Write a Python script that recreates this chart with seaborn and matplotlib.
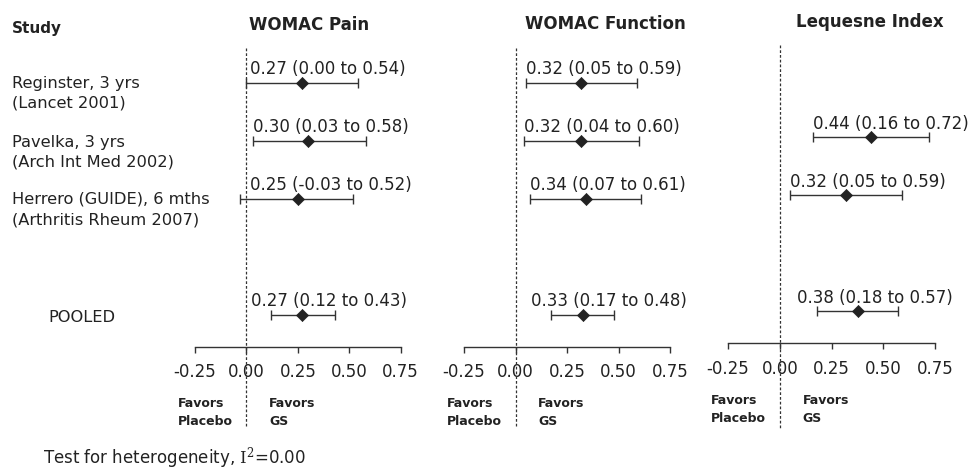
import numpy as np
import pandas as pd
import matplotlib
matplotlib.use("Agg")
import matplotlib.pyplot as plt
import seaborn as sns

# ---------------- data ----------------
studies = ["Reginster, 3 yrs", "Pavelka, 3 yrs", "Herrero (GUIDE), 6 mths", "POOLED"]
sources = ["(Lancet 2001)", "(Arch Int Med 2002)", "(Arthritis Rheum 2007)", ""]
outcomes = ["WOMAC Pain", "WOMAC Function", "Lequesne Index"]
row_pos = [0, 1, 2, 4]

pain_est = [0.27, 0.30, 0.25, 0.27]
pain_lo = [0.00, 0.03, -0.03, 0.12]
pain_hi = [0.54, 0.58, 0.52, 0.43]

func_est = [0.32, 0.32, 0.34, 0.33]
func_lo = [0.05, 0.04, 0.07, 0.17]
func_hi = [0.59, 0.60, 0.61, 0.48]

leq_est = [np.nan, 0.44, 0.32, 0.38]
leq_lo = [np.nan, 0.16, 0.05, 0.18]
leq_hi = [np.nan, 0.72, 0.59, 0.57]

x_ticks = [-0.25, 0.00, 0.25, 0.50, 0.75]
favors_left = ["Favors", "Placebo"]
favors_right = ["Favors", "GS"]
footer = r"Test for heterogeneity, $\mathrm{I}^{2}$=0.00"

frames = []
for name, est, lo, hi in zip(outcomes, [pain_est, func_est, leq_est],
                             [pain_lo, func_lo, leq_lo], [pain_hi, func_hi, leq_hi]):
    frames.append(pd.DataFrame({"outcome": name, "study": studies, "row": row_pos,
                                "est": est, "lo": lo, "hi": hi}))
df = pd.concat(frames, ignore_index=True)

# ---------------- style ----------------
sns.set_theme(style="white")
plt.rcParams["font.family"] = ["DejaVu Sans"]
plt.rcParams["mathtext.fontset"] = "dejavuserif"
W, H = 971, 475
fig = plt.figure(figsize=(W / 100, H / 100), dpi=100)

DARK = "#222222"
LINE = "#333333"


def fx(x):
    return x / W


def fy(y):
    return 1 - y / H


def ftext(x, y, s, **kw):
    fig.text(fx(x), fy(y), s, **kw)


# panel geometry in pixels: (x of -0.25, x of 0.75, top, axis line y)
panels = [(195, 400.7, 48, 346.7), (464, 670, 48, 346.7), (728, 935, 44.5, 343.2)]
PX_PER_ROW = 58.0
Y_TOP = -0.6
DASH_BOTTOM_PX = 428

for (x0, x1, top, bot), name in zip(panels, outcomes):
    ax = fig.add_axes([fx(x0), fy(bot), (x1 - x0) / W, (bot - top) / H])
    sub = df[df["outcome"] == name].dropna()
    y_axis = Y_TOP + (bot - top) / PX_PER_ROW
    ax.set_xlim(x_ticks[0], x_ticks[-1])
    ax.set_ylim(y_axis, Y_TOP)

    # reference line at zero
    y_dash_end = Y_TOP + (DASH_BOTTOM_PX - top) / PX_PER_ROW
    ax.plot([0, 0], [Y_TOP, y_dash_end], color=LINE, lw=0.9,
            ls=(0, (2.2, 1.6)), clip_on=False, zorder=1)

    # confidence intervals
    ax.errorbar(sub["est"], sub["row"],
                xerr=[sub["est"] - sub["lo"], sub["hi"] - sub["est"]],
                fmt="none", ecolor=LINE, elinewidth=1.0, capsize=3.5,
                capthick=1.0, clip_on=False, zorder=2)
    # point estimates
    sns.scatterplot(data=sub, x="est", y="row", marker="D", s=38, color=DARK,
                    edgecolor=DARK, linewidth=0.5, ax=ax, zorder=3, clip_on=False,
                    legend=False)

    for _, r in sub.iterrows():
        label = f"{r['est']:.2f} ({r['lo']:.2f} to {r['hi']:.2f})"
        pooled = r["study"] == "POOLED"
        anchor = r["lo"] if pooled else max(r["lo"], 0.015)
        ax.annotate(label, xy=(anchor, r["row"]),
                    xytext=(-20 if pooled else 0, 8.5), textcoords="offset pixels",
                    ha="left", va="baseline", fontsize=12, color=DARK,
                    annotation_clip=False)

    # axis styling
    for s in ["left", "top", "right"]:
        ax.spines[s].set_visible(False)
    ax.spines["bottom"].set_color(LINE)
    ax.spines["bottom"].set_linewidth(1.0)
    ax.set_yticks([])
    ax.set_xticks(x_ticks)
    ax.set_xticklabels([f"{t:.2f}" for t in x_ticks], fontsize=12, color=DARK)
    ax.tick_params(axis="x", direction="out", length=4, width=1, color=LINE,
                   pad=8, bottom=True)
    ax.set_xlabel("")
    ax.set_ylabel("")
    ax.patch.set_alpha(0)

    # favors labels
    for xd, lines in [(-0.335, favors_left), (0.11, favors_right)]:
        for k, t in enumerate(lines):
            ax.annotate(t, xy=(xd, 0), xycoords=("data", "axes fraction"),
                        xytext=(0, -57 - 18 * k), textcoords="offset pixels",
                        ha="left", va="center", fontsize=9, fontweight="bold",
                        color=DARK, annotation_clip=False)

# headers
ftext(12, 28, "Study", fontsize=11, fontweight="bold", color=DARK, va="center")
for xc, yc, name in [(309, 25.5, outcomes[0]), (605, 24, outcomes[1]), (870, 22, outcomes[2])]:
    ftext(xc, yc, name, fontsize=12, fontweight="bold", color=DARK,
          ha="center", va="center")

# study labels
rows_px = [83, 141.7, 199]
for yp, s1, s2 in zip(rows_px, studies[:3], sources[:3]):
    ftext(12, yp + 5, s1, fontsize=11.7, color=DARK, va="baseline")
    ftext(12, yp + 25, s2, fontsize=11.7, color=DARK, va="baseline")
ftext(48, 318, studies[3], fontsize=11.7, color=DARK, va="center")

# footer
ftext(43, 458, footer, fontsize=12, color=DARK, va="center")

fig.savefig("out.png", dpi=100)
